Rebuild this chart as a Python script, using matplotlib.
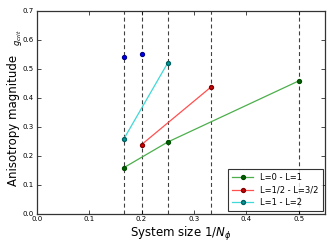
import numpy as np
import matplotlib
matplotlib.use("Agg")
import matplotlib.pyplot as plt

# vertical guide lines at 1/N_phi
guide_x = [1/6, 1/5, 1/4, 1/3, 1/2]

x_01 = [1/6, 1/4, 1/2]
y_01 = [0.159, 0.247, 0.458]

x_half = [1/5, 1/3]
y_half = [0.238, 0.438]

x_12 = [1/6, 1/4]
y_12 = [0.259, 0.520]

x_extra = [1/6, 1/5]
y_extra = [0.539, 0.550]

fig = plt.figure(figsize=(3.32, 2.49), dpi=100)
ax = fig.add_axes([0.1105, 0.142, 0.8685, 0.815])

for gx in guide_x:
    ax.axvline(gx, color="k", ls="--", dashes=(3.6, 2.6), lw=0.8, alpha=0.75, zorder=1)

ax.plot(x_01, y_01, "-o", color="#4caf4c", mfc="#006400", mec="#004d00",
        ms=2.8, lw=0.9, label="L=0 - L=1", zorder=3)
ax.plot(x_half, y_half, "-o", color="#ff5050", mfc="#e00000", mec="#800000",
        ms=2.8, lw=0.9, label="L=1/2 - L=3/2", zorder=3)
ax.plot(x_12, y_12, "-o", color="#40d8d8", mfc="#00a0a0", mec="#006060",
        ms=2.8, lw=0.9, label="L=1 - L=2", zorder=3)
ax.plot(x_extra, y_extra, "o", color="b", mec="#00008b", ms=2.8, zorder=3)

ax.set_xlim(0, 0.55)
ax.set_ylim(0, 0.7)
ax.set_xticks([0.0, 0.1, 0.2, 0.3, 0.4, 0.5])
ax.set_yticks(np.arange(0, 0.71, 0.1))
ax.tick_params(direction="in", labelsize=5, length=3, width=0.5,
               top=True, right=True, pad=2)
for s in ax.spines.values():
    s.set_linewidth(0.9)
    s.set_color("#333333")

ax.set_xlabel(r"System size $1/N_\phi$", fontsize=8.5, labelpad=2)
fig.text(0.04, 0.515, "Anisotropy magnitude", rotation=90, fontsize=8.5,
         ha="center", va="center")
fig.text(0.055, 0.85, r"$g_{crit}$", rotation=90, fontsize=6,
         ha="center", va="center")

leg = ax.legend(loc="lower right", fontsize=6, numpoints=1, fancybox=False,
                borderpad=0.5, handlelength=2.5, labelspacing=0.4,
                borderaxespad=0.3)
leg.get_frame().set_edgecolor("k")
leg.get_frame().set_linewidth(0.8)

fig.savefig("out.png", dpi=100)
